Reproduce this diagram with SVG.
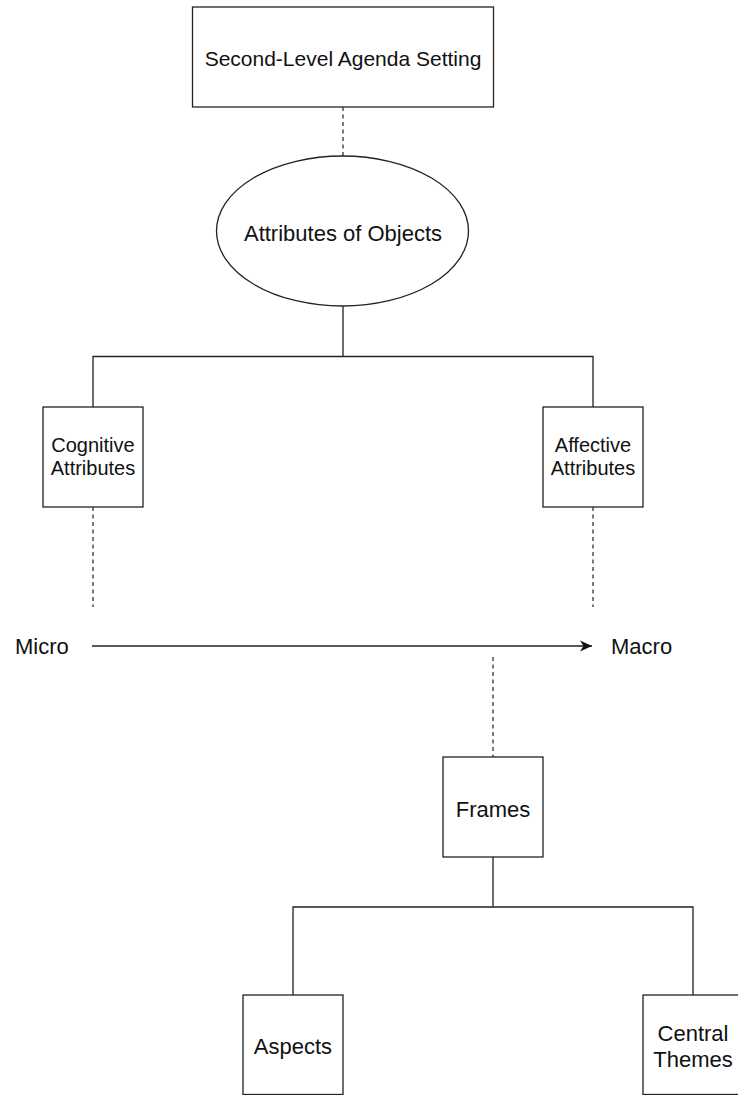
<svg xmlns="http://www.w3.org/2000/svg" width="738" height="1095" viewBox="0 0 738 1095">
  <style>
    .box { fill: #ffffff; stroke: #222222; stroke-width: 1.3; }
    .edge { fill: none; stroke: #222222; stroke-width: 1.3; }
    .dash { fill: none; stroke: #222222; stroke-width: 1.2; stroke-dasharray: 4 3.5; }
    .t { font-family: "Liberation Sans", Arial, Helvetica, sans-serif; fill: #111111; text-anchor: middle; }
    .lbl { font-family: "Liberation Sans", Arial, Helvetica, sans-serif; fill: #111111; font-size: 22px; }
  </style>
  <defs>
    <marker id="arrow" markerWidth="13" markerHeight="12" viewBox="0 0 13 12" refX="12" refY="6" orient="auto" markerUnits="userSpaceOnUse">
      <path d="M0,0.5 L12,6 L0,11.5 L3.5,6 Z" fill="#111111"/>
    </marker>
  </defs>
  <rect width="738" height="1095" fill="#ffffff"/>

  <g id="connectors">
    <line class="dash" x1="343" y1="107" x2="343" y2="156"/>
    <path class="edge" d="M343,306 L343,356.5 M93,407 L93,356.5 L593,356.5 L593,407"/>
    <line class="dash" x1="93" y1="507" x2="93" y2="607"/>
    <line class="dash" x1="593" y1="507" x2="593" y2="607"/>
    <line class="edge" x1="92" y1="646" x2="592" y2="646" marker-end="url(#arrow)"/>
    <line class="dash" x1="493" y1="657" x2="493" y2="757"/>
    <path class="edge" d="M493,857 L493,907 M293,995 L293,907 L693,907 L693,995"/>
  </g>

  <g id="node-second-level">
    <rect class="box" x="192.5" y="7" width="301" height="100"/>
    <text class="t" x="343" y="66" font-size="21">Second-Level Agenda Setting</text>
  </g>

  <g id="node-attributes-of-objects">
    <ellipse class="box" cx="342.5" cy="231" rx="126" ry="75"/>
    <text class="t" x="343" y="241" font-size="22">Attributes of Objects</text>
  </g>

  <g id="node-cognitive">
    <rect class="box" x="43" y="407" width="100" height="100"/>
    <text class="t" x="93" y="452" font-size="20">Cognitive</text>
    <text class="t" x="93" y="475" font-size="20">Attributes</text>
  </g>

  <g id="node-affective">
    <rect class="box" x="543" y="407" width="100" height="100"/>
    <text class="t" x="593" y="452" font-size="20">Affective</text>
    <text class="t" x="593" y="475" font-size="20">Attributes</text>
  </g>

  <g id="label-micro">
    <text class="lbl" x="15" y="654">Micro</text>
  </g>
  <g id="label-macro">
    <text class="lbl" x="611" y="654">Macro</text>
  </g>

  <g id="node-frames">
    <rect class="box" x="443" y="757" width="100" height="100"/>
    <text class="t" x="493" y="817" font-size="22">Frames</text>
  </g>

  <g id="node-aspects">
    <rect class="box" x="243" y="995" width="100" height="99.5"/>
    <text class="t" x="293" y="1054" font-size="22">Aspects</text>
  </g>

  <g id="node-central-themes">
    <rect class="box" x="643" y="995" width="100" height="99.5"/>
    <text class="t" x="693" y="1041" font-size="22">Central</text>
    <text class="t" x="693" y="1067" font-size="22">Themes</text>
  </g>
</svg>
